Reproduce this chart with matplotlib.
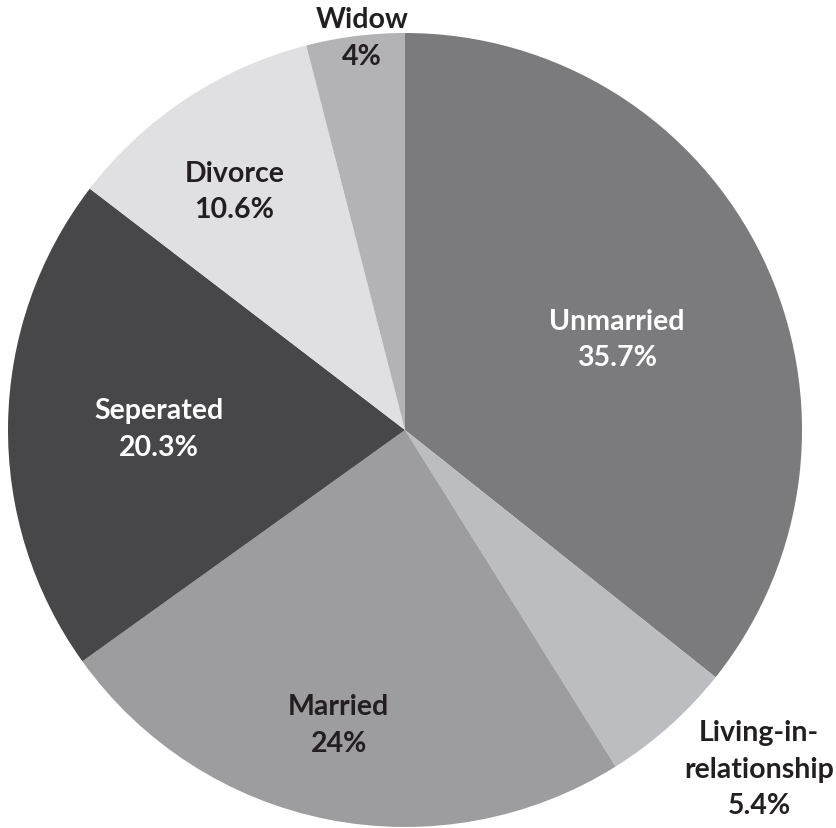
import matplotlib
matplotlib.use("Agg")
import matplotlib.pyplot as plt
import numpy as np

categories = ["Unmarried", "Living-in-\nrelationship", "Married", "Seperated", "Divorce", "Widow"]
values = [35.7, 5.4, 24, 20.3, 10.6, 4]
value_labels = ["35.7%", "5.4%", "24%", "20.3%", "10.6%", "4%"]

colors = ["#7b7b7d", "#bcbdc0", "#9d9da0", "#474749", "#e0e0e2", "#b3b3b6"]
text_colors = ["white", "#231f20", "#231f20", "white", "#231f20", "#231f20"]
label_r = [0.58, 1.235, 0.76, 0.62, 0.74, 0.995]
label_da = [-2.5, 4.5, -1.5, 0.5, 2.0, -1.0]

W, H = 836, 829
fig = plt.figure(figsize=(W / 100, H / 100), dpi=100)
ax = fig.add_axes([0, 0, 1, 1])
ax.set_xlim(0, W)
ax.set_ylim(0, H)
ax.set_aspect("equal")
ax.axis("off")

cx, cy, R = 405, H - 431, 397
wedges, _ = ax.pie(values, colors=colors, startangle=90, counterclock=False,
                   center=(cx, cy), radius=R, wedgeprops=dict(linewidth=0))
ax.set_xlim(0, W)
ax.set_ylim(0, H)

plt.rcParams["font.family"] = ["Lato", "DejaVu Sans"]
for w, cat, vl, tc, rf, da in zip(wedges, categories, value_labels, text_colors, label_r, label_da):
    ang = np.deg2rad((w.theta1 + w.theta2) / 2 + da)
    x = cx + rf * R * np.cos(ang)
    y = cy + rf * R * np.sin(ang)
    ax.text(x, y, f"{cat}\n{vl}", ha="center", va="center", color=tc,
            fontsize=20.5, fontweight="bold", family=["Lato", "DejaVu Sans"],
            linespacing=1.5)

fig.savefig("out.png", dpi=100)
